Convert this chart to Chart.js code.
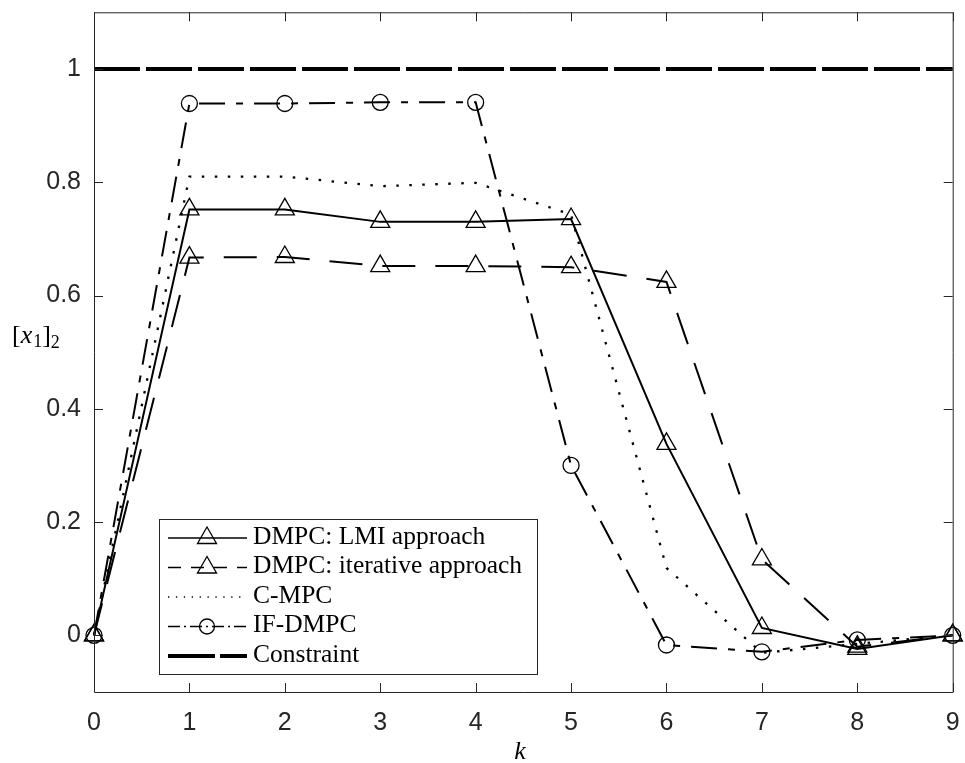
<!DOCTYPE html>
<html>
<head>
<meta charset="utf-8">
<title>[x1]2 response</title>
<script src="https://cdn.jsdelivr.net/npm/chart.js@4.4.1/dist/chart.umd.min.js"></script>
<style>
  html, body { margin: 0; padding: 0; background: #fff; }
  canvas { display: block; }
</style>
</head>
<body>
<canvas id="state-chart" width="965" height="763"></canvas>
<script>
// time steps and state trajectories [x1]2 for each controller
const steps = [0, 1, 2, 3, 4, 5, 6, 7, 8, 9];
const lmiValues = [0, 0.752, 0.752, 0.730, 0.730, 0.735, 0.338, 0.013, -0.024, 0];
const iterativeValues = [0, 0.667, 0.668, 0.652, 0.652, 0.650, 0.624, 0.134, -0.020, 0];
const cmpcValues = [0, 0.810, 0.810, 0.793, 0.799, 0.743, 0.119, -0.031, -0.015, 0];
const ifdmpcValues = [0, 0.939, 0.939, 0.941, 0.941, 0.300, -0.017, -0.029, -0.008, 0];
const constraintValues = [1, 1, 1, 1, 1, 1, 1, 1, 1, 1];
const seriesNames = [
  "DMPC: LMI approach",
  "DMPC: iterative approach",
  "C-MPC",
  "IF-DMPC",
  "Constraint",
];
const xTicks = [0, 1, 2, 3, 4, 5, 6, 7, 8, 9];
const yTicks = [0, 0.2, 0.4, 0.6, 0.8, 1];

const AXIS_COLOR = "#262626";
const SERIF = '"Liberation Serif", "Times New Roman", serif';

function points(values) {
  return values.map((v, i) => ({ x: steps[i], y: v }));
}

function noEdgePadding(scale) {
  scale.paddingTop = 0;
  scale.paddingBottom = 0;
  scale.paddingLeft = 0;
  scale.paddingRight = 0;
}

// box around the axes with inward ticks on all four sides
const axesBox = {
  id: "axesBox",
  afterDatasetsDraw(chart) {
    const { ctx, chartArea: a, scales } = chart;
    const len = 9;
    ctx.save();
    ctx.strokeStyle = AXIS_COLOR;
    ctx.lineWidth = 1;
    ctx.setLineDash([]);
    ctx.beginPath();
    ctx.rect(a.left + 0.5, a.top + 0.5, a.right - a.left, a.bottom - a.top);
    xTicks.forEach((t) => {
      const px = Math.round(scales.x.getPixelForValue(t)) + 0.5;
      ctx.moveTo(px, a.bottom);
      ctx.lineTo(px, a.bottom - len);
      ctx.moveTo(px, a.top);
      ctx.lineTo(px, a.top + len);
    });
    yTicks.forEach((t) => {
      const py = Math.round(scales.y.getPixelForValue(t)) + 0.5;
      ctx.moveTo(a.left, py);
      ctx.lineTo(a.left + len, py);
      ctx.moveTo(a.right, py);
      ctx.lineTo(a.right - len, py);
    });
    ctx.stroke();
    ctx.restore();
  },
};

function drawTriangle(ctx, x, y, r) {
  ctx.beginPath();
  ctx.moveTo(x, y - r);
  ctx.lineTo(x + Math.sin((2 * Math.PI) / 3) * r, y + 0.5 * r);
  ctx.lineTo(x - Math.sin((2 * Math.PI) / 3) * r, y + 0.5 * r);
  ctx.closePath();
  ctx.stroke();
}

// legend box in the lower left of the plot, LaTeX-like labels
const boxLegend = {
  id: "boxLegend",
  afterDraw(chart) {
    const { ctx } = chart;
    const box = { left: 159, top: 519, right: 537, bottom: 674 };
    const baselines = [543.5, 573, 602.5, 632, 661.5];
    const x0 = 168, x1 = 247, mid = 207;
    ctx.save();
    ctx.fillStyle = "#fff";
    ctx.fillRect(box.left, box.top, box.right - box.left, box.bottom - box.top);
    ctx.strokeStyle = AXIS_COLOR;
    ctx.lineWidth = 1;
    ctx.strokeRect(box.left + 0.5, box.top + 0.5, box.right - box.left, box.bottom - box.top);

    chart.data.datasets.forEach((ds, i) => {
      const ly = baselines[i] - 5.5;
      ctx.strokeStyle = "#000";
      ctx.lineWidth = ds.legendWidth;
      ctx.setLineDash(ds.legendDash);
      ctx.beginPath();
      ctx.moveTo(x0, ly);
      ctx.lineTo(x1, ly);
      ctx.stroke();
      ctx.setLineDash([]);
      ctx.lineWidth = 1.3;
      if (ds.pointStyle === "triangle" && ds.pointRadius > 0) {
        drawTriangle(ctx, mid, ly, ds.pointRadius);
      } else if (ds.pointStyle === "circle" && ds.pointRadius > 0) {
        ctx.beginPath();
        ctx.arc(mid, ly, 7.5, 0, Math.PI * 2);
        ctx.stroke();
      }
      ctx.fillStyle = "#000";
      ctx.font = "25.5px " + SERIF;
      ctx.textBaseline = "alphabetic";
      ctx.textAlign = "left";
      ctx.fillText(ds.label, 253, baselines[i]);
    });
    ctx.restore();
  },
};

// axis titles: [x_1]_2 and italic k
const axisTitles = {
  id: "axisTitles",
  afterDraw(chart) {
    const { ctx } = chart;
    ctx.save();
    ctx.fillStyle = "#000";
    ctx.textBaseline = "alphabetic";
    ctx.textAlign = "left";
    let x = 12;
    const base = 343;
    const parts = [
      ["[", "26px " + SERIF, 0],
      ["x", "italic 26px " + SERIF, 0],
      ["1", "18px " + SERIF, 4],
      ["]", "26px " + SERIF, 0],
      ["2", "18px " + SERIF, 5],
    ];
    parts.forEach(([t, f, dy]) => {
      ctx.font = f;
      ctx.fillText(t, x, base + dy);
      x += ctx.measureText(t).width + (t === "x" ? 1 : 0);
    });
    ctx.font = "italic 26px " + SERIF;
    ctx.textAlign = "center";
    ctx.fillText("k", 520, 759);
    ctx.restore();
  },
};

const config = {
  type: "line",
  data: {
    datasets: [
      {
        label: seriesNames[0],
        data: points(lmiValues),
        borderColor: "#000",
        borderWidth: 2,
        pointStyle: "triangle",
        pointRadius: 11,
        pointBorderWidth: 1.3,
        pointBorderColor: "#000",
        pointBackgroundColor: "rgba(0,0,0,0)",
        legendDash: [],
        legendWidth: 1.3,
      },
      {
        label: seriesNames[1],
        data: points(iterativeValues),
        borderColor: "#000",
        borderWidth: 2,
        borderDash: [33, 20],
        pointStyle: "triangle",
        pointRadius: 11,
        pointBorderWidth: 1.3,
        pointBorderColor: "#000",
        pointBackgroundColor: "rgba(0,0,0,0)",
        legendDash: [13, 10],
        legendWidth: 1.3,
      },
      {
        label: seriesNames[2],
        data: points(cmpcValues),
        borderColor: "#000",
        borderWidth: 2.3,
        borderDash: [2.5, 10.5],
        pointStyle: "circle",
        pointRadius: 0,
        legendDash: [1.3, 6.6],
        legendWidth: 1.3,
      },
      {
        label: seriesNames[3],
        data: points(ifdmpcValues),
        borderColor: "#000",
        borderWidth: 2,
        borderDash: [26, 11, 7, 11],
        pointStyle: "circle",
        pointRadius: 8,
        pointBorderWidth: 1.3,
        pointBorderColor: "#000",
        pointBackgroundColor: "rgba(0,0,0,0)",
        legendDash: [12, 4, 2, 4],
        legendWidth: 1.3,
      },
      {
        label: seriesNames[4],
        data: points(constraintValues),
        borderColor: "#000",
        borderWidth: 4,
        borderDash: [46, 6],
        pointRadius: 0,
        legendDash: [47, 5],
        legendWidth: 4,
      },
    ],
  },
  options: {
    responsive: false,
    devicePixelRatio: 1,
    animation: false,
    events: [],
    layout: { padding: { left: 0, right: 10, top: 10, bottom: 0 } },
    elements: { line: { tension: 0 } },
    datasets: { line: { clip: false } },
    plugins: {
      legend: { display: false },
      tooltip: { enabled: false },
    },
    scales: {
      x: {
        type: "linear",
        min: 0,
        max: 9,
        afterBuildTicks: (scale) => {
          scale.ticks = xTicks.map((v) => ({ value: v }));
        },
        afterFit: (scale) => {
          scale.height = 71;
          noEdgePadding(scale);
        },
        grid: { display: false, drawTicks: false },
        border: { display: false },
        ticks: {
          padding: 16,
          color: AXIS_COLOR,
          font: { family: '"Liberation Sans", Arial, sans-serif', size: 25 },
          maxRotation: 0,
          callback: (v) => String(v),
        },
      },
      y: {
        type: "linear",
        min: -0.1,
        max: 1.1,
        afterBuildTicks: (scale) => {
          scale.ticks = yTicks.map((v) => ({ value: v }));
        },
        afterFit: (scale) => {
          scale.width = 94;
          noEdgePadding(scale);
        },
        grid: { display: false, drawTicks: false },
        border: { display: false },
        ticks: {
          padding: 13,
          color: AXIS_COLOR,
          font: { family: '"Liberation Sans", Arial, sans-serif', size: 25 },
          callback: (v) => String(Number(v.toFixed(1))),
        },
      },
    },
  },
  plugins: [axesBox, boxLegend, axisTitles],
};

const stateChart = new Chart(document.getElementById("state-chart"), config);
</script>
</body>
</html>
